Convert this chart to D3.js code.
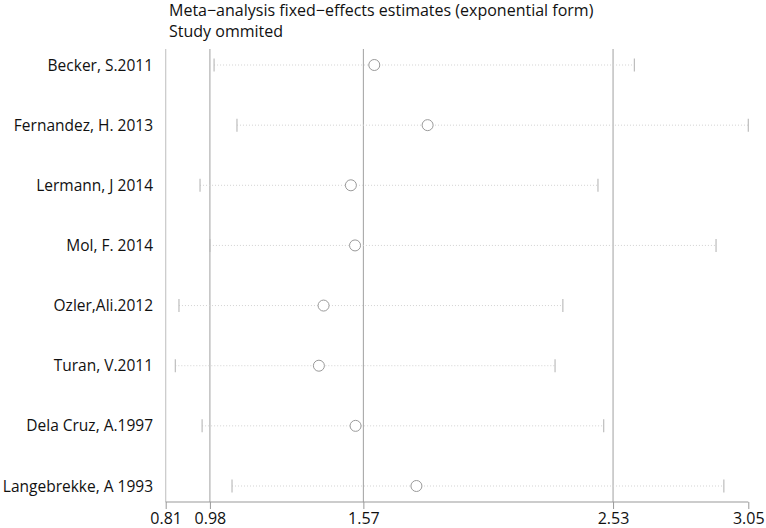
<!DOCTYPE html>
<html><head><meta charset="utf-8">
<script src="https://cdn.jsdelivr.net/npm/d3@7"></script>
<style>body{margin:0;background:#fff}svg{display:block}</style>
</head><body>
<svg id="c" width="766" height="528"></svg>
<script>
const studies = ["Becker, S.2011","Fernandez, H. 2013","Lermann, J 2014","Mol, F. 2014","Ozler,Ali.2012","Turan, V.2011","Dela Cruz, A.1997","Langebrekke, A 1993"];
const estimate = [1.612,1.817,1.522,1.538,1.417,1.399,1.540,1.774];
const lower = [0.996,1.084,0.942,0.980,0.861,0.847,0.950,1.065];
const upper = [2.612,3.050,2.472,2.926,2.337,2.307,2.494,2.956];
const tickValues = [0.81,0.98,1.57,2.53,3.05];
const refLines = [0.98,1.57,2.53];
const titleLines = ["Meta\u2212analysis fixed\u2212effects estimates (exponential form)","Study ommited"];

(function(){
const svg = d3.select("#c");
const font = "'Open Sans', 'Noto Sans', sans-serif";
const fs = 16;
const x = d3.scaleLinear().domain([0.81,3.05]).range([165.7,748.3]);
const y = d3.scalePoint().domain(studies).range([65,486]);
const plotTop = 49, plotBase = 502;

svg.append("line").attr("x1",x(0.81)).attr("x2",x(0.81)).attr("y1",plotTop).attr("y2",plotBase)
  .attr("stroke","#c8c8c8").attr("stroke-width",1.2);
svg.selectAll(".ref").data(refLines).enter().append("line")
  .attr("x1",d=>x(d)).attr("x2",d=>x(d)).attr("y1",plotTop).attr("y2",plotBase)
  .attr("stroke","#a0a0a0").attr("stroke-width",1);

const axis = d3.axisBottom(x).tickValues(tickValues).tickFormat(d3.format(".2f")).tickSize(7).tickPadding(4);
const gA = svg.append("g").attr("transform",`translate(0,${plotBase})`).call(axis);
gA.select(".domain").attr("stroke","#999").attr("d",`M${x(0.81)},0H${x(3.05)}`);
gA.selectAll(".tick line").attr("stroke","#999");
gA.selectAll("text").attr("font-family",font).attr("font-size",fs).attr("fill","#111");

const g = svg.append("g");
studies.forEach((s,i)=>{
  const yy = y(s);
  g.append("line").attr("x1",x(lower[i])).attr("x2",x(upper[i])).attr("y1",yy).attr("y2",yy)
    .attr("stroke","#d2d2d2").attr("stroke-width",1).attr("stroke-dasharray","1,2");
  [lower[i],upper[i]].forEach(v=>{
    g.append("line").attr("x1",x(v)).attr("x2",x(v)).attr("y1",yy-6.5).attr("y2",yy+6.5)
      .attr("stroke","#bdbdbd").attr("stroke-width",1.2);
  });
  g.append("circle").attr("cx",x(estimate[i])).attr("cy",yy).attr("r",5.5)
    .attr("fill","#fff").attr("stroke","#9a9a9a").attr("stroke-width",1);
  svg.append("text").attr("x",153).attr("y",yy).attr("dy","0.36em").attr("text-anchor","end")
    .attr("font-family",font).attr("font-size",15.5).attr("fill","#111").text(s);
});

titleLines.forEach((t,i)=>{
  svg.append("text").attr("x",169).attr("y",16+i*21).attr("font-family",font).attr("font-size",fs)
    .attr("fill","#111").text(t);
});
})();
</script>
</body></html>
